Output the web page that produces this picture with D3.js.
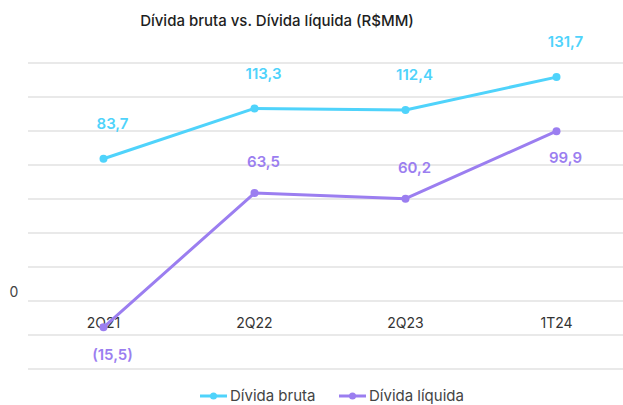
<!DOCTYPE html>
<html>
<head>
<meta charset="utf-8">
<script src="https://cdn.jsdelivr.net/npm/d3@7"></script>
<style>
  body { margin: 0; background: #fff; }
  text { font-family: Inter, "Noto Sans", sans-serif; }
</style>
</head>
<body>
<div id="chart"></div>
<script>
// chart data
const periods = ['2Q21', '2Q22', '2Q23', '1T24'];
const grossDebt = [83.7, 113.3, 112.4, 131.7];
const netDebt = [-15.5, 63.5, 60.2, 99.9];
const netLabelSide = ['below', 'above', 'above', 'below'];
const yTicks = [-40, -20, 0, 20, 40, 60, 80, 100, 120, 140];

const width = 623, height = 405;
const cyan = '#4fd3fb', purple = '#9b7ef0';

const svg = d3.select('#chart')
    .append('svg')
        .attr('width', width)
        .attr('height', height);

const x = d3.scaleBand()
    .domain(periods)
    .range([28, 632]);

const y = d3.scaleLinear()
    .domain([-40, 140])
    .range([369, 63]);

// gridlines
svg.append('g')
    .selectAll('line')
    .data(yTicks)
    .enter()
    .append('line')
        .attr('x1', 28)
        .attr('x2', 632)
        .attr('y1', d => y(d))
        .attr('y2', d => y(d))
        .attr('stroke', '#e2e2e2')
        .attr('stroke-width', 1.5);

// only the zero label is shown
svg.append('text')
    .attr('x', 14)
    .attr('y', y(0) - 9)
    .attr('dy', '0.35em')
    .style('text-anchor', 'middle')
    .style('font-size', '14px')
    .attr('fill', '#444')
    .text('0');

// x labels
svg.append('g')
    .selectAll('text')
    .data(periods)
    .enter()
    .append('text')
        .attr('x', d => x(d) + x.bandwidth() / 2)
        .attr('y', 323)
        .attr('dy', '0.35em')
        .style('text-anchor', 'middle')
        .style('font-size', '14px')
        .attr('fill', '#333')
        .text(d => d);

const cx = i => x(periods[i]) + x.bandwidth() / 2;
const fmt = v => v < 0 ? `(${String(Math.abs(v)).replace('.', ',')})` : String(v).replace('.', ',');

function drawSeries(values, color) {
    const line = d3.line()
        .x((d, i) => cx(i))
        .y(d => y(d));
    svg.append('path')
        .datum(values)
        .attr('d', line)
        .attr('fill', 'none')
        .attr('stroke', color)
        .attr('stroke-width', 3)
        .attr('stroke-linejoin', 'round');
    svg.append('g')
        .selectAll('circle')
        .data(values)
        .enter()
        .append('circle')
            .attr('cx', (d, i) => cx(i))
            .attr('cy', d => y(d))
            .attr('r', 4)
            .attr('fill', color);
}

drawSeries(grossDebt, cyan);
drawSeries(netDebt, purple);

// value labels
svg.append('g')
    .selectAll('text')
    .data(grossDebt)
    .enter()
    .append('text')
        .attr('x', (d, i) => cx(i) + 9)
        .attr('y', d => y(d) - 35)
        .attr('dy', '0.35em')
        .style('text-anchor', 'middle')
        .style('font-size', '15px')
        .style('font-weight', 600)
        .attr('fill', cyan)
        .text(d => fmt(d));

svg.append('g')
    .selectAll('text')
    .data(netDebt)
    .enter()
    .append('text')
        .attr('x', (d, i) => cx(i) + 9)
        .attr('y', (d, i) => netLabelSide[i] === 'below' ? y(d) + 27 : y(d) - 31)
        .attr('dy', '0.35em')
        .style('text-anchor', 'middle')
        .style('font-size', '15px')
        .style('font-weight', 600)
        .attr('fill', purple)
        .text(d => fmt(d));

// title
svg.append('text')
    .attr('x', 277)
    .attr('y', 21)
    .attr('dy', '0.35em')
    .style('text-anchor', 'middle')
    .style('font-size', '15px')
    .style('font-weight', 500)
    .attr('fill', '#1e1e1e')
    .text('Dívida bruta vs. Dívida líquida (R$MM)');

// legend
const legend = [
    {name: 'Dívida bruta', color: cyan, x: 200},
    {name: 'Dívida líquida', color: purple, x: 339}
];
const lg = svg.append('g')
    .selectAll('g')
    .data(legend)
    .enter()
    .append('g')
        .attr('transform', d => `translate(${d.x},396)`);
lg.append('line')
    .attr('x1', 0).attr('x2', 27)
    .attr('stroke', d => d.color)
    .attr('stroke-width', 3);
lg.append('circle')
    .attr('cx', 13.5)
    .attr('r', 3.5)
    .attr('fill', d => d.color);
lg.append('text')
    .attr('x', 30)
    .attr('dy', '0.35em')
    .style('font-size', '15px')
    .attr('fill', '#444')
    .text(d => d.name);
</script>
</body>
</html>
